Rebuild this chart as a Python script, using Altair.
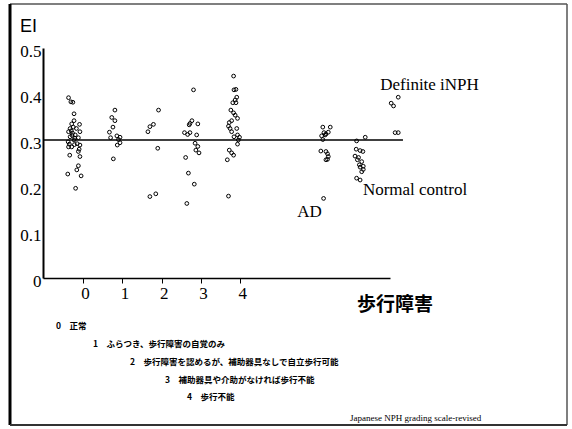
import altair as alt
import pandas as pd

# EI values by gait-disturbance grade and by reference group (x = jittered position)
grade0_x = [-0.37, -0.31, -0.26, -0.23, -0.23, -0.29, -0.09, -0.25, -0.33, -0.17,
            -0.37, -0.08, -0.27, -0.33, -0.20, -0.23, -0.38, -0.35, -0.15, -0.08,
            -0.29, -0.37, -0.12, -0.08, -0.34, -0.12, -0.16, -0.39, -0.05, -0.19,
            -0.21, -0.28, -0.12, -0.10, -0.30, -0.22]
grade0_ei = [0.392, 0.383, 0.382, 0.357, 0.342, 0.335, 0.334, 0.328, 0.325, 0.325,
             0.318, 0.318, 0.315, 0.307, 0.311, 0.300, 0.296, 0.291, 0.292, 0.289,
             0.285, 0.285, 0.275, 0.264, 0.267, 0.244, 0.235, 0.226, 0.222, 0.195,
             0.304, 0.310, 0.305, 0.280, 0.320, 0.290]

grade1_x = [0.81, 0.73, 0.81, 0.76, 0.67, 0.70, 0.86, 0.90, 0.94, 0.87, 0.77, 0.94]
grade1_ei = [0.365, 0.349, 0.342, 0.328, 0.317, 0.305, 0.309, 0.301, 0.294, 0.289, 0.259, 0.306]

grade2_x = [1.92, 1.79, 1.70, 1.65, 1.90, 1.70, 1.85]
grade2_ei = [0.365, 0.334, 0.329, 0.318, 0.282, 0.177, 0.183]

grade3_x = [2.81, 2.77, 2.72, 2.70, 2.92, 2.58, 2.66, 2.72, 2.89, 2.85, 2.92, 2.87,
            2.95, 2.61, 2.68, 2.83, 2.64]
grade3_ei = [0.409, 0.342, 0.336, 0.333, 0.335, 0.316, 0.312, 0.316, 0.311, 0.293,
             0.286, 0.278, 0.272, 0.262, 0.228, 0.204, 0.162]

grade4_x = [3.83, 3.84, 3.89, 3.91, 3.87, 3.81, 3.89, 3.76, 3.83, 3.87, 3.93, 3.78,
            3.72, 3.70, 3.74, 3.91, 3.78, 3.93, 3.98, 3.84, 3.95, 3.93, 3.72, 3.78,
            3.83, 3.67, 3.70]
grade4_ei = [0.439, 0.409, 0.410, 0.393, 0.387, 0.381, 0.381, 0.365, 0.359, 0.354,
             0.347, 0.342, 0.338, 0.330, 0.325, 0.325, 0.318, 0.311, 0.306, 0.307,
             0.300, 0.291, 0.278, 0.272, 0.267, 0.257, 0.178]

ad_x = [6.10, 6.29, 6.13, 6.24, 6.18, 6.07, 6.16, 6.10, 6.05, 6.18, 6.22, 6.24,
        6.22, 6.18, 6.12]
ad_ei = [0.328, 0.328, 0.316, 0.317, 0.313, 0.309, 0.311, 0.301, 0.276, 0.275,
         0.270, 0.264, 0.258, 0.257, 0.173]

control_x = [6.96, 7.18, 6.95, 7.05, 7.12, 6.92, 7.01, 6.98, 7.09, 7.03, 7.13, 7.05,
             7.13, 7.09, 6.96, 7.05]
control_ei = [0.298, 0.306, 0.280, 0.277, 0.275, 0.265, 0.262, 0.257, 0.253, 0.246,
              0.243, 0.241, 0.236, 0.231, 0.217, 0.213]

inph_x = [7.84, 7.90, 8.02, 7.94, 8.02]
inph_ei = [0.380, 0.374, 0.393, 0.316, 0.316]

cutoff = 0.3
x_ticks = [0, 1, 2, 3, 4]
y_ticks = [0, 0.1, 0.2, 0.3, 0.4, 0.5]

# grade number and description, separated by an ideographic space
legend_lines = [
    "0\u3000正常",
    "1\u3000ふらつき、歩行障害の自覚のみ",
    "2\u3000歩行障害を認めるが、補助器具なしで自立歩行可能",
    "3\u3000補助器具や介助がなければ歩行不能",
    "4\u3000歩行不能",
]

groups = [
    ("0", grade0_x, grade0_ei), ("1", grade1_x, grade1_ei), ("2", grade2_x, grade2_ei),
    ("3", grade3_x, grade3_ei), ("4", grade4_x, grade4_ei), ("AD", ad_x, ad_ei),
    ("Normal control", control_x, control_ei), ("Definite iNPH", inph_x, inph_ei),
]
points = pd.DataFrame(
    [{"group": g, "x": x, "ei": e} for g, xs, es in groups for x, e in zip(xs, es)]
)

SERIF = "Liberation Serif"
SANS = "Liberation Sans"
CJK = "Noto Sans CJK JP"

x_scale = alt.Scale(domain=[-1.02, 7.81], nice=False, zero=False)
y_scale = alt.Scale(domain=[0, 0.5], nice=False)

x_axis = alt.Axis(values=x_ticks, title=None, grid=False, labelFont=SERIF,
                  labelFontSize=17, labelColor="black", tickSize=5, tickColor="black",
                  domainColor="black", domainWidth=1.5, labelPadding=2, labelOffset=2)
y_axis = alt.Axis(values=y_ticks, title=None, grid=False, labelFont=SERIF,
                  labelFontSize=17, labelColor="black", ticks=False, labelPadding=2,
                  labelOffset=3, domainColor="black", domainWidth=2,
                  labelExpr="datum.value == 0 ? '0' : format(datum.value, '.1f')")

scatter = alt.Chart(points).mark_point(
    shape="circle", size=14, filled=False, color="black", strokeWidth=1, opacity=1
).encode(
    x=alt.X("x:Q", scale=x_scale, axis=x_axis),
    y=alt.Y("ei:Q", scale=y_scale, axis=y_axis),
)

one = alt.Data(values=[{}])

cutoff_line = alt.Chart(one).mark_rule(color="black", strokeWidth=1.3).encode(
    x=alt.datum(-1.02), x2=alt.datum(8.14), y=alt.datum(cutoff)
)


def frame_rule(x, x2, y, y2, width, color):
    return alt.Chart(one).mark_rule(strokeWidth=width, color=color).encode(
        x=alt.value(x), x2=alt.value(x2), y=alt.value(y), y2=alt.value(y2)
    )


frame = [
    frame_rule(-33, 524, -44, -44, 1.5, "#555555"),
    frame_rule(-33, -33, -44, 377, 3, "black"),
    frame_rule(524, 524, -44, 377, 1.5, "#555555"),
    frame_rule(-33, 524, 377, 377, 2, "#333333"),
]


def pixel_text(label, x, y, font, size, weight="normal", align="left"):
    return alt.Chart(one).mark_text(
        text=label, font=font, fontSize=size, fontWeight=weight, align=align,
        baseline="middle", color="black"
    ).encode(x=alt.value(x), y=alt.value(y))


def data_text(label, x, y, font, size):
    return alt.Chart(one).mark_text(
        text=label, font=font, fontSize=size, align="left", baseline="middle",
        color="black"
    ).encode(x=alt.datum(x), y=alt.datum(y))


texts = [
    pixel_text("EI", -23, -21, SANS, 18),
    data_text("Definite iNPH", 7.56, 0.420, SERIF, 17),
    data_text("Normal control", 7.12, 0.191, SERIF, 17),
    data_text("AD", 5.45, 0.143, SERIF, 17),
    pixel_text("歩行障害", 314, 257, CJK, 19, weight="bold"),
    pixel_text("Japanese NPH grading scale-revised", 307, 370, SERIF, 9),
]

legend_x = [13, 50, 87, 122, 144]
legend_y = [278, 296, 314, 332, 349]
for line, lx, ly in zip(legend_lines, legend_x, legend_y):
    texts.append(pixel_text(line, lx, ly, CJK, 8.5, weight="bold"))

chart = alt.layer(*frame, cutoff_line, scatter, *texts).properties(
    width=347,
    height=230,
    autosize=alt.AutoSizeParams(type="none"),
    padding={"left": 43, "top": 48, "right": 182, "bottom": 151},
    background="white",
).configure_view(stroke=None)

chart.save("out.html", embed_options={"renderer": "svg", "actions": False})
